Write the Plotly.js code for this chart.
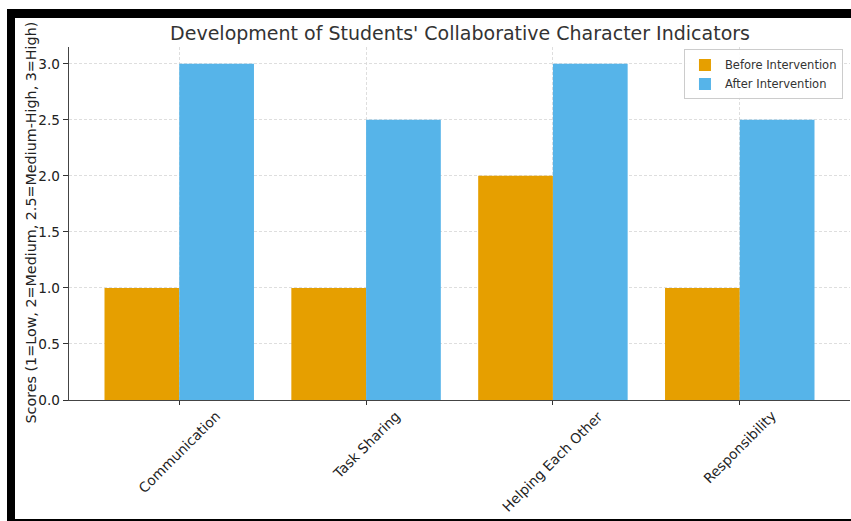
<!DOCTYPE html>
<html>
<head>
<meta charset="utf-8">
<script src="https://cdn.plot.ly/plotly-3.0.1.min.js"></script>
<style>
  html, body { margin: 0; padding: 0; background: #ffffff; }
  #wrap { position: relative; width: 851px; height: 521px; overflow: hidden; }
  #chart { position: absolute; left: 0; top: 0; width: 851px; height: 521px; }
  .bar { position: absolute; background: #000; pointer-events: none; }
</style>
</head>
<body>
<div id="wrap">
  <div id="chart"></div>
  <div class="bar" style="left:7px; top:9px; width:844px; height:9px;"></div>
  <div class="bar" style="left:7px; top:9px; width:8px; height:512px;"></div>
  <div class="bar" style="left:7px; top:519px; width:844px; height:2px;"></div>
</div>
<script>
const categories = ["Communication", "Task Sharing", "Helping Each Other", "Responsibility"];
const seriesNames = ["Before Intervention", "After Intervention"];
const beforeValues = [1, 1, 2, 1];
const afterValues = [3, 2.5, 3, 2.5];
const yTickValues = [0, 0.5, 1, 1.5, 2, 2.5, 3];
const titleText = "Development of Students' Collaborative Character Indicators";
const yTitleText = "Scores (1=Low, 2=Medium, 2.5=Medium-High, 3=High)";

const FONT = "DejaVu Sans, Arial, sans-serif";
const xIdx = categories.map((c, i) => i);

const traces = [
  { type: "bar", name: seriesNames[0], x: xIdx, y: beforeValues,
    marker: { color: "#E69F00", line: { width: 0 } }, width: 0.4, offset: -0.4 },
  { type: "bar", name: seriesNames[1], x: xIdx, y: afterValues,
    marker: { color: "#56B4E9", line: { width: 0 } }, width: 0.4, offset: 0 }
];

const annotations = categories.map((c, i) => ({
  x: i, xref: "x", y: 0, yref: "y", text: c, showarrow: false,
  textangle: -45, xanchor: "center", yanchor: "top", yshift: -5,
  font: { family: FONT, size: 13.8, color: "#222" }
}));
annotations.push({
  x: 0, xref: "paper", xshift: -39, xanchor: "center",
  y: 0.5, yref: "paper", yshift: 1, yanchor: "middle",
  text: yTitleText, textangle: -90, showarrow: false,
  font: { family: FONT, size: 14.3, color: "#222" }
});

const layout = {
  width: 851, height: 521,
  paper_bgcolor: "#ffffff", plot_bgcolor: "#ffffff",
  margin: { l: 69, r: 1, t: 47, b: 121, pad: 0 },
  font: { family: FONT, color: "#222" },
  title: { text: titleText, x: 0.5406, xanchor: "center", y: 0.936, yanchor: "middle",
           font: { family: FONT, size: 19.0, color: "#333" } },
  barmode: "overlay",
  showlegend: true,
  legend: { x: 0.991, xanchor: "right", y: 0.993, yanchor: "top",
            bgcolor: "rgba(255,255,255,0.9)", bordercolor: "#cccccc", borderwidth: 1,
            font: { family: FONT, size: 11.5, color: "#333" }, tracegroupgap: 0,
            itemwidth: 30 },
  xaxis: {
    type: "linear", range: [-0.59, 3.59], tickvals: xIdx, showticklabels: false,
    showgrid: true, gridcolor: "#d6d6d6", griddash: "3px,2px", gridwidth: 0.8,
    showline: true, linecolor: "#444", linewidth: 1.4, mirror: false,
    ticks: "outside", ticklen: 4, tickcolor: "#333", tickwidth: 1,
    zeroline: false, fixedrange: true
  },
  yaxis: {
    range: [0, 3.15], tickvals: yTickValues, tickformat: ".1f",
    showgrid: true, gridcolor: "#d6d6d6", griddash: "3px,2px", gridwidth: 0.8,
    showline: true, linecolor: "#444", linewidth: 1.4, mirror: false,
    ticks: "outside", ticklen: 5, tickcolor: "#333", tickwidth: 1,
    tickfont: { family: FONT, size: 13.6, color: "#222" },
    zeroline: false, automargin: false
  },
  annotations: annotations
};

Plotly.newPlot("chart", traces, layout, { displayModeBar: false, staticPlot: true });
</script>
</body>
</html>
